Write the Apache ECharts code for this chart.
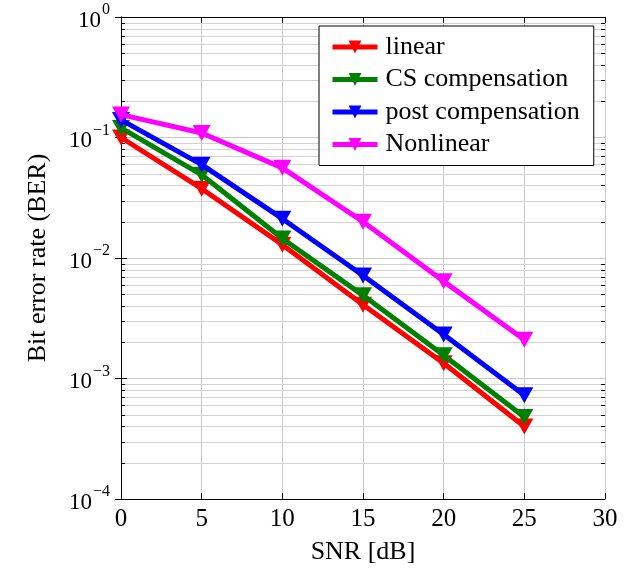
<!DOCTYPE html>
<html><head><meta charset="utf-8">
<script src="https://cdn.jsdelivr.net/npm/echarts@6/dist/echarts.min.js"></script>
<style>html,body{margin:0;padding:0;background:#fff}#c{width:632px;height:570px}</style>
</head><body><div id="c"></div>
<script>
const snr = [0, 5, 10, 15, 20, 25];
const linear = [0.100, 0.0376, 0.0129, 0.0041, 0.00134, 0.00040];
const csComp = [0.120, 0.049, 0.0145, 0.0049, 0.00156, 0.00048];
const postComp = [0.140, 0.0595, 0.0212, 0.00716, 0.00232, 0.000727];
const nonlinear = [0.155, 0.109, 0.056, 0.020, 0.0064, 0.0021];
const seriesNames = ['linear', 'CS compensation', 'post compensation', 'Nonlinear'];
const xTicks = [0, 5, 10, 15, 20, 25, 30];
const yDecades = [-4, -3, -2, -1, 0];
const minorMultipliers = [2, 3, 4, 5, 6, 7, 8, 9];

const minorValues = [];
for (let i = 0; i < yDecades.length - 1; i++) {
  for (const m of minorMultipliers) minorValues.push(m * Math.pow(10, yDecades[i]));
}

const FONT = 'Liberation Serif';
const colors = ['#ff0000', '#008000', '#0000ff', '#ff00ff'];
const dataSets = [linear, csComp, postComp, nonlinear];

function mkSeries(i) {
  return {
    name: seriesNames[i], type: 'line', z: 5 + i,
    data: snr.map((x, k) => [x, dataSets[i][k]]),
    symbol: 'triangle', symbolRotate: 180, symbolSize: [18, 16],
    lineStyle: {width: 5, color: colors[i]},
    itemStyle: {color: colors[i]},
    emphasis: {disabled: true}
  };
}

const chart = echarts.init(document.getElementById('c'), null, {renderer: 'canvas'});
chart.setOption({
  animation: false,
  backgroundColor: '#fff',
  grid: {left: 121, right: 27, top: 17, bottom: 70},
  legend: {
    orient: 'vertical', left: 319, top: 26,
    width: 276,
    padding: [8, 14, 8, 11],
    borderColor: '#000', borderWidth: 1, backgroundColor: '#fff',
    itemWidth: 45, itemHeight: 16, itemGap: 6.5,
    lineStyle: {width: 5},
    textStyle: {fontFamily: FONT, fontSize: 26, lineHeight: 26, color: '#000', padding: [0, 0, 0, 3]},
    data: seriesNames
  },
  xAxis: [{
    type: 'value', min: 0, max: 30, interval: 5,
    name: 'SNR [dB]', nameLocation: 'middle', nameGap: 40,
    nameTextStyle: {fontFamily: FONT, fontSize: 26, color: '#000'},
    axisLine: {show: true, lineStyle: {color: '#000', width: 1}},
    axisTick: {show: true, inside: true, length: 6, lineStyle: {color: '#000'}},
    axisLabel: {fontFamily: FONT, fontSize: 25, color: '#000', margin: 8},
    splitLine: {show: true, lineStyle: {color: '#c8c8c8', width: 1}}
  }, {
    type: 'value', min: 0, max: 30, interval: 5, position: 'top',
    axisLine: {show: true, lineStyle: {color: '#000', width: 1}},
    axisTick: {show: true, inside: true, length: 6, lineStyle: {color: '#000'}},
    axisLabel: {show: false}, splitLine: {show: false}
  }],
  yAxis: [{
    type: 'log', logBase: 10, min: 0.0001, max: 1, interval: 1,
    name: 'Bit error rate (BER)', nameLocation: 'middle', nameGap: 70,
    nameTextStyle: {fontFamily: FONT, fontSize: 26, color: '#000'},
    axisLine: {show: true, lineStyle: {color: '#000', width: 1}},
    axisTick: {show: true, inside: true, length: 6, lineStyle: {color: '#000'}},
    minorTick: {show: false},
    axisLabel: {
      margin: 11,
      formatter: v => '{b|10}{s|' + (Math.round(Math.log10(v)) === 0 ? '0' : '\u2212' + (-Math.round(Math.log10(v)))) + '}',
      rich: {
        b: {fontFamily: FONT, fontSize: 23, color: '#000', lineHeight: 30, verticalAlign: 'bottom'},
        s: {fontFamily: FONT, fontSize: 16, color: '#000', lineHeight: 30, verticalAlign: 'top', padding: [0, 0, 0, 1]}
      }
    },
    splitLine: {show: true, lineStyle: {color: '#c8c8c8', width: 1}}
  }, {
    type: 'log', logBase: 10, min: 0.0001, max: 1, interval: 1, position: 'right',
    axisLine: {show: true, lineStyle: {color: '#000', width: 1}},
    axisTick: {show: true, inside: true, length: 6, lineStyle: {color: '#000'}},
    axisLabel: {show: false}, splitLine: {show: false}
  }],
  series: [{
    type: 'custom', z: 1, silent: true,
    xAxisIndex: 0, yAxisIndex: 0,
    data: minorValues.map(v => [0, v]),
    renderItem: function (params, api) {
      const cs = params.coordSys;
      const y = Math.round(api.coord([0, api.value(1)])[1]) + 0.5;
      return {
        type: 'group',
        children: [
          {type: 'line', shape: {x1: cs.x, y1: y, x2: cs.x + cs.width, y2: y}, style: {stroke: '#d2d2d2', lineWidth: 1}},
          {type: 'line', shape: {x1: cs.x, y1: y, x2: cs.x + 4, y2: y}, style: {stroke: '#000', lineWidth: 1}},
          {type: 'line', shape: {x1: cs.x + cs.width - 4, y1: y, x2: cs.x + cs.width, y2: y}, style: {stroke: '#000', lineWidth: 1}}
        ]
      };
    }
  }].concat([0, 1, 2, 3].map(mkSeries))
});
</script></body></html>
